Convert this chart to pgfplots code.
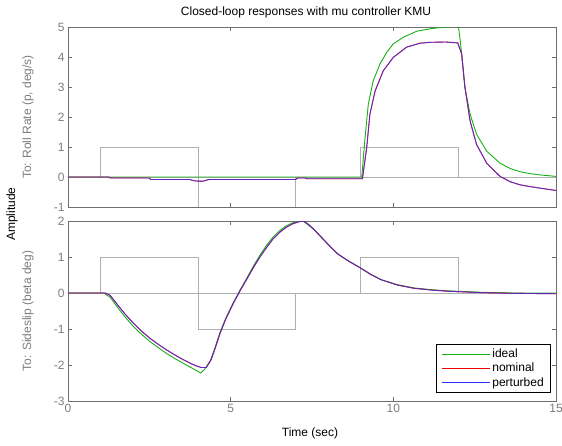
\documentclass[border=0pt]{standalone}
\usepackage{fontspec}
\setmainfont{Liberation Sans}
\usepackage{pgfplots}
\pgfplotsset{compat=1.18}
\definecolor{ideal}{RGB}{20,175,20}
\definecolor{nomc}{RGB}{240,0,0}
\definecolor{pertc}{RGB}{50,50,255}
\definecolor{refc}{RGB}{175,175,175}
\definecolor{framec}{RGB}{110,110,110}
\definecolor{tickc}{RGB}{125,125,125}

\pgfplotsset{
  mlstyle/.style={
    scale only axis, width=488pt, height=180pt,
    xmin=0, xmax=15,
    axis line style={framec, line width=0.9pt},
    tick style={framec, line width=0.6pt},
    major tick length=4pt,
    tick align=inside,
    xtick={0,5,10,15},
    tick label style={font=\fontsize{12}{14}\selectfont, text=tickc},
    /pgf/number format/assume math mode=true,
    clip=true,
  },
  refline/.style={refc, line width=0.7pt, forget plot},
  idl/.style={ideal, line width=0.9pt, forget plot},
  nom/.style={nomc, line width=0.9pt, forget plot},
  per/.style={pertc, line width=0.9pt, opacity=0.75, forget plot},
}

\begin{document}
\begin{tikzpicture}
\path[use as bounding box] (-68pt,27pt) rectangle (494pt,-418pt);

% top: roll rate
\begin{axis}[mlstyle, at={(0pt,0pt)}, anchor=north west,
  ymin=-1, ymax=5, ytick={-1,0,1,2,3,4,5}, xticklabels={}]
\addplot[refline] coordinates {(0,0) (15,0)};
\addplot[refline] coordinates {(0,0) (1,0) (1,1) (4,1) (4,-1) (7,-1) (7,0) (9,0) (9,1) (12,1) (12,0) (15,0)};
\addplot[idl] coordinates {
  (0,0) (9.03,0) (9.13,1.3) (9.23,2.42) (9.38,3.2) (9.59,3.77) (9.8,4.16) (10.0,4.44)
  (10.31,4.66) (10.72,4.86) (11.13,4.94) (11.5,4.99) (12.0,5.02)
  (12.05,4.6) (12.1,4.1) (12.2,2.98) (12.36,2.09) (12.56,1.42) (12.87,0.86) (13.28,0.46)
  (13.6,0.28) (13.89,0.18) (14.2,0.11) (14.5,0.07) (15,0.02)};
\addplot[nom] coordinates {
  (0,0) (1.25,0) (1.3,-0.035) (2.5,-0.035) (2.55,-0.085) (3.75,-0.085) (3.85,-0.12)
  (4.0,-0.14) (4.15,-0.14) (4.3,-0.09) (4.35,-0.085) (7.0,-0.085) (7.05,-0.035)
  (7.3,-0.035) (7.35,-0.06) (9.05,-0.06) (9.18,0.97) (9.28,2.09) (9.44,2.87) (9.69,3.54)
  (10.0,3.99) (10.41,4.33) (10.82,4.46) (11.13,4.49) (11.6,4.5) (11.98,4.47)
  (12.1,4.1) (12.2,3.0) (12.36,1.86) (12.56,1.08) (12.87,0.46) (13.28,0.02)
  (13.6,-0.16) (13.89,-0.26) (14.2,-0.32) (14.5,-0.37) (15,-0.45)};
\addplot[per] coordinates {
  (0,0) (1.25,0) (1.3,-0.035) (2.5,-0.035) (2.55,-0.085) (3.75,-0.085) (3.85,-0.12)
  (4.0,-0.14) (4.15,-0.14) (4.3,-0.09) (4.35,-0.085) (7.0,-0.085) (7.05,-0.035)
  (7.3,-0.035) (7.35,-0.06) (9.05,-0.06) (9.18,0.97) (9.28,2.09) (9.44,2.87) (9.69,3.54)
  (10.0,3.99) (10.41,4.33) (10.82,4.46) (11.13,4.49) (11.6,4.5) (11.98,4.47)
  (12.1,4.1) (12.2,3.0) (12.36,1.86) (12.56,1.08) (12.87,0.46) (13.28,0.02)
  (13.6,-0.16) (13.89,-0.26) (14.2,-0.32) (14.5,-0.37) (15,-0.45)};
\end{axis}

% bottom: sideslip
\begin{axis}[mlstyle, at={(0pt,-194pt)}, anchor=north west,
  ymin=-3, ymax=2, ytick={-3,-2,-1,0,1,2},
  legend style={at={(0.99,0.044)}, anchor=south east, draw=black, line width=0.8pt,
    font=\fontsize{12}{14}\selectfont, row sep=0pt, inner xsep=5pt, inner ysep=3pt},
  legend cell align=left,
  legend image code/.code={\draw[line width=0.7pt, #1] (0pt,0pt) -- (48pt,0pt);}]
\addplot[refline] coordinates {(0,0) (15,0)};
\addplot[refline] coordinates {(0,0) (1,0) (1,1) (4,1) (4,-1) (7,-1) (7,0) (9,0) (9,1) (12,1) (12,0) (15,0)};
\addplot[idl] coordinates {
  (0,0) (1.1,0) (1.3,-0.12) (1.5,-0.37) (1.75,-0.66) (2.0,-0.92) (2.25,-1.14) (2.52,-1.35)
  (2.75,-1.5) (3.03,-1.68) (3.3,-1.83) (3.54,-1.95) (3.8,-2.08) (3.96,-2.16) (4.08,-2.22)
  (4.2,-2.12) (4.37,-1.89) (4.5,-1.57) (4.67,-1.1) (4.85,-0.7) (5.08,-0.27) (5.3,0.1)
  (5.5,0.42) (5.7,0.75) (5.9,1.05) (6.1,1.32) (6.3,1.55) (6.5,1.73) (6.7,1.86) (6.9,1.95)
  (7.1,1.99) (7.22,2.0) (7.4,1.88) (7.57,1.75) (7.8,1.53) (8.08,1.27) (8.3,1.08) (8.6,0.9)
  (9.0,0.69) (9.3,0.52) (9.62,0.37) (10.13,0.23) (10.64,0.14) (11.2,0.09) (11.67,0.06)
  (12.2,0.04) (12.7,0.02) (13.7,0.0) (15,0.0)};
\addplot[nom] coordinates {
  (0,0) (1.15,0) (1.3,-0.07) (1.5,-0.3) (1.75,-0.58) (2.0,-0.83) (2.25,-1.05) (2.52,-1.26)
  (2.75,-1.41) (3.03,-1.58) (3.3,-1.73) (3.54,-1.85) (3.8,-1.97) (3.96,-2.03) (4.1,-2.07)
  (4.25,-2.07) (4.4,-1.85) (4.5,-1.6) (4.67,-1.13) (4.85,-0.72) (5.08,-0.29) (5.3,0.08)
  (5.5,0.39) (5.7,0.71) (5.9,1.0) (6.1,1.26) (6.3,1.5) (6.5,1.68) (6.7,1.82) (6.9,1.92)
  (7.1,1.98) (7.25,2.0) (7.4,1.9) (7.57,1.76) (7.8,1.54) (8.08,1.27) (8.3,1.08) (8.6,0.9)
  (9.0,0.69) (9.3,0.52) (9.62,0.37) (10.13,0.22) (10.64,0.13) (11.2,0.08) (11.67,0.05)
  (12.2,0.03) (12.7,0.01) (13.7,-0.01) (15,-0.02)};
\addplot[per] coordinates {
  (0,0) (1.15,0) (1.3,-0.07) (1.5,-0.3) (1.75,-0.58) (2.0,-0.83) (2.25,-1.05) (2.52,-1.26)
  (2.75,-1.41) (3.03,-1.58) (3.3,-1.73) (3.54,-1.85) (3.8,-1.97) (3.96,-2.03) (4.1,-2.07)
  (4.25,-2.07) (4.4,-1.85) (4.5,-1.6) (4.67,-1.13) (4.85,-0.72) (5.08,-0.29) (5.3,0.08)
  (5.5,0.39) (5.7,0.71) (5.9,1.0) (6.1,1.26) (6.3,1.5) (6.5,1.68) (6.7,1.82) (6.9,1.92)
  (7.1,1.98) (7.25,2.0) (7.4,1.9) (7.57,1.76) (7.8,1.54) (8.08,1.27) (8.3,1.08) (8.6,0.9)
  (9.0,0.69) (9.3,0.52) (9.62,0.37) (10.13,0.22) (10.64,0.13) (11.2,0.08) (11.67,0.05)
  (12.2,0.03) (12.7,0.01) (13.7,-0.01) (15,-0.02)};
\addlegendimage{ideal}\addlegendentry{ideal}
\addlegendimage{nomc}\addlegendentry{nominal}
\addlegendimage{pertc}\addlegendentry{perturbed}
\end{axis}

\node[font=\fontsize{12}{14}\selectfont] at (238pt,15pt) {Closed-loop responses with mu controller KMU};
\node[font=\fontsize{12}{14}\selectfont] at (242pt,-406pt) {Time (sec)};
\node[font=\fontsize{12}{14}\selectfont, rotate=90] at (-56pt,-187pt) {Amplitude};
\node[font=\fontsize{12}{14}\selectfont, text=tickc, rotate=90] at (-40pt,-90pt) {To: Roll Rate (p, deg/s)};
\node[font=\fontsize{12}{14}\selectfont, text=tickc, rotate=90] at (-40pt,-284pt) {To: Sideslip (beta deg)};
\end{tikzpicture}
\end{document}
